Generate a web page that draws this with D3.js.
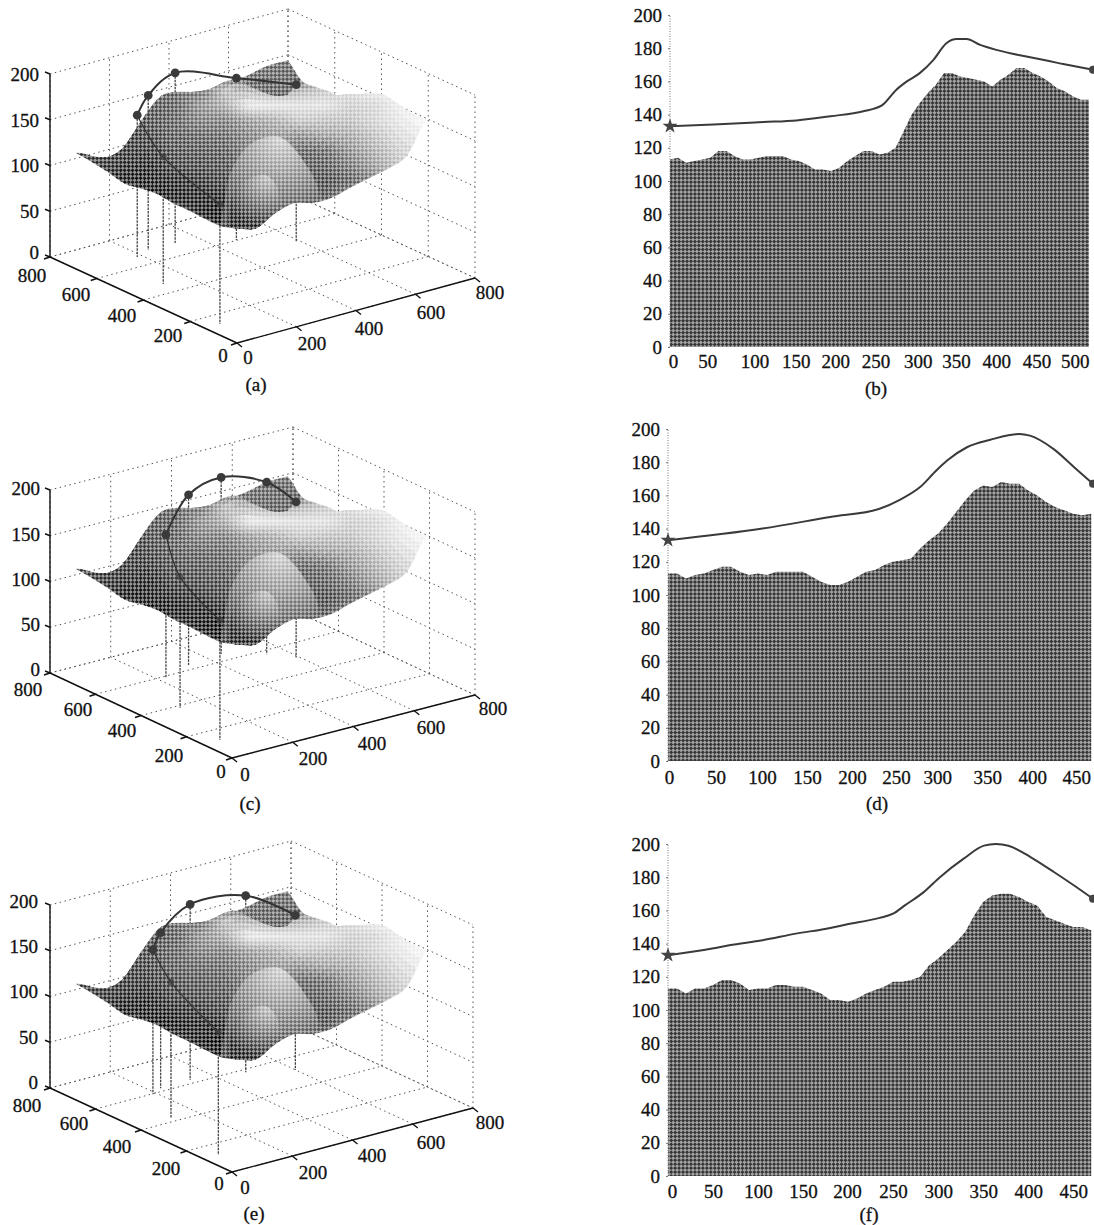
<!DOCTYPE html>
<html>
<head>
<meta charset="utf-8">
<script src="https://cdn.jsdelivr.net/npm/d3@7"></script>
<style>
body { margin: 0; background: #fff; }
text { font-family: "Liberation Serif", serif; font-size: 19px; fill: #111; stroke: #111; stroke-width: 0.3px; }
</style>
</head>
<body>
<svg id="chart" width="1094" height="1225"></svg>
<script>
const groundTicks = [0, 200, 400, 600, 800];
const heightTicks3d = [0, 50, 100, 150, 200];
const yTicks = [0, 20, 40, 60, 80, 100, 120, 140, 160, 180, 200];

// terrain heights, rows run front to back, columns left to right
const terrain = [
  [125, 118, 127, 131, 124, 122, 126, 129, 132, 139, 170],
  [120, 114, 116, 122, 122, 124, 128, 132, 136, 146, 170],
  [120, 113, 110, 112, 122, 128, 134, 140, 148, 160, 173],
  [121, 113, 107, 110, 120, 136, 150, 160, 165, 170, 176],
  [121, 115, 108, 112, 130, 150, 165, 170, 172, 175, 171],
  [123, 118, 116, 122, 150, 168, 172, 172, 170, 168, 161],
  [121, 120, 128, 150, 166, 168, 168, 165, 160, 155, 152],
  [118, 118, 138, 162, 172, 168, 164, 158, 154, 152, 152],
  [122, 142, 172, 181, 180, 179, 184, 168, 153, 149, 150],
  [125, 125, 142, 168, 174, 168, 159, 153, 141, 134, 150],
  [127, 116, 112, 141, 164, 162, 155, 158, 160, 165, 165]
];
const terrainCorners = [[0, 0], [709, 93], [709, 686], [0, 686]];

// the two rounded hills in front of the plateau, outline as x, y, z
const hillOuter = [[202, 300, 117], [222, 300, 137], [269, 300, 155], [323, 300, 160], [380, 300, 156], [424, 300, 141], [464, 300, 120], [497, 300, 99], [521, 300, 71], [540, 300, 30], [300, 300, 20], [190, 300, 40]];
const hillInner = [[222, 300, 109], [255, 300, 118], [323, 300, 120], [356, 300, 111], [380, 300, 91], [385, 300, 60], [370, 300, 20], [240, 300, 20], [208, 300, 60]];

// grey levels of the shaded surface as read on the page
const toneX = [75, 100, 125, 150, 175, 200, 225, 250, 275, 300, 325, 350, 375, 400, 425];
const toneY = [60, 75, 90, 105, 120, 135, 150, 165, 180, 195, 210, 225, 240];
const tones = [
  [120, 120, 120, 120, 120, 120, 120, 120, 120, 120, 120, 120, 120, 120, 120],
  [120, 120, 120, 120, 120, 120, 120, 120, 120, 120, 120, 120, 120, 120, 120],
  [130, 130, 130, 125, 130, 135, 200, 190, 180, 190, 205, 225, 240, 245, 250],
  [120, 120, 120, 120, 125, 165, 185, 240, 235, 230, 232, 215, 220, 240, 250],
  [110, 110, 110, 115, 130, 150, 150, 175, 190, 210, 205, 205, 220, 235, 250],
  [100, 100, 100, 110, 125, 130, 135, 155, 170, 165, 180, 185, 205, 225, 240],
  [100, 100, 100, 100, 115, 120, 125, 150, 175, 130, 135, 165, 190, 215, 230],
  [100, 95, 90, 85, 105, 110, 115, 135, 165, 120, 125, 145, 175, 205, 230],
  [95, 95, 75, 80, 85, 95, 105, 125, 150, 115, 110, 125, 150, 200, 230],
  [110, 110, 110, 70, 75, 80, 85, 115, 150, 115, 115, 150, 170, 200, 230],
  [110, 110, 110, 95, 95, 75, 65, 105, 130, 130, 140, 160, 170, 200, 230],
  [110, 110, 110, 95, 95, 90, 70, 100, 130, 140, 160, 160, 170, 200, 230],
  [110, 110, 110, 95, 95, 90, 70, 100, 130, 140, 160, 160, 170, 200, 230]
];
const backTone = 125;

// flight paths, start to end
const pathA = [[51, 138, 131], [115, 462, 139], [184, 661, 155], [239, 684, 169], [328, 682, 186], [471, 602, 177], [588, 495, 172]];
const pathC = [[51, 138, 131], [115, 390, 143], [220, 584, 157], [329, 626, 186], [448, 638, 193], [543, 564, 188], [590, 498, 170]];
const pathE = [[48, 141, 134], [116, 430, 149], [188, 599, 158], [232, 622, 170], [332, 623, 192], [485, 580, 193], [600, 514, 169]];

// profiles
const groundB = [113, 114, 111, 112, 113, 114, 118, 118, 115, 113, 113, 114, 115, 115, 115, 113, 112, 110, 107, 107, 106, 108, 112, 115, 118, 118, 116, 117, 120, 130, 140, 147, 153, 158, 165, 165, 163, 162, 161, 160, 157, 161, 164, 168, 168, 165, 163, 160, 156, 154, 151, 149, 149];
const groundD = [113, 113, 110, 112, 113, 115, 117, 117, 114, 112, 113, 112, 114, 114, 114, 114, 111, 108, 106, 106, 108, 111, 114, 115, 118, 120, 121, 122, 128, 133, 137, 143, 150, 157, 163, 166, 165, 168, 167, 167, 163, 160, 156, 153, 151, 149, 148, 149];
const groundF = [113, 113, 110, 113, 113, 115, 118, 118, 116, 112, 113, 113, 115, 115, 114, 114, 112, 110, 106, 106, 105, 107, 110, 112, 114, 117, 117, 118, 120, 127, 131, 136, 141, 147, 157, 165, 169, 170, 170, 168, 165, 163, 156, 154, 152, 150, 150, 148];
const lineBx = [0, 54, 116, 157, 199, 240, 263, 281, 294, 310, 327, 343, 356, 368, 385, 405, 447, 488, 525];
const lineBy = [133, 134, 135.5, 136.5, 139, 142, 145.5, 155, 160, 165, 173, 183, 185.5, 185.5, 182, 179, 174.5, 170.5, 167];
const lineDx = [0, 105, 180, 235, 258, 280, 298, 310, 332, 358, 390, 402, 428, 451, 472];
const lineDy = [133, 140, 147, 152, 157.5, 165, 175, 181, 189, 193.5, 197, 196, 188, 177, 167];
const lineFx = [0, 49, 68, 105, 142, 176, 198, 235, 250, 263, 284, 302, 328, 351, 364, 378, 403, 429, 451, 472];
const lineFy = [133, 137, 139, 142, 146, 149, 151.5, 155.5, 158, 163, 171, 180, 191, 199, 200, 199, 192, 183, 175, 167];

const svg = d3.select("#chart");
const defs = svg.append("defs");

// halftone screen: a checker of dark and half see through squares
const TILE = 5.6;
const screen = defs.append("pattern").attr("id", "screen").attr("width", TILE).attr("height", TILE)
  .attr("patternUnits", "userSpaceOnUse").attr("patternTransform", "rotate(45)");
screen.append("rect").attr("width", TILE).attr("height", TILE).attr("fill", "#fff");
screen.append("rect").attr("width", TILE / 2).attr("height", TILE / 2).attr("fill", "#757575");
screen.append("rect").attr("x", TILE / 2).attr("y", TILE / 2).attr("width", TILE / 2).attr("height", TILE / 2).attr("fill", "#757575");
defs.append("mask").attr("id", "halftone").attr("maskUnits", "userSpaceOnUse")
  .attr("x", 0).attr("y", 0).attr("width", 1094).attr("height", 1225)
  .append("rect").attr("width", 1094).attr("height", 1225).attr("fill", "url(#screen)");

const screened = g => {
  const v = Math.max(0, 255 - (255 - g) / 0.73);
  return d3.rgb(v, v, v);
};

// the surface is drawn with one fixed view, the panels only shift it down
const baseX = d3.scaleLinear().domain([0, 800]).range([0, 238]);
const baseXup = d3.scaleLinear().domain([0, 800]).range([0, -65]);
const baseY = d3.scaleLinear().domain([0, 800]).range([0, -187]);
const baseYup = d3.scaleLinear().domain([0, 800]).range([0, -86]);
const baseZ = d3.scaleLinear().domain([0, 200]).range([0, -183]);
function baseProject(x, y, z) {
  return [237 + baseX(x) + baseY(y), 343 + baseXup(x) + baseYup(y) + baseZ(z)];
}

function catmull(a, b, c, d, t) {
  return 0.5 * (2 * b + (c - a) * t + (2 * a - 5 * b + 4 * c - d) * t * t + (3 * b - a - 3 * c + d) * t * t * t);
}
function terrainHeight(u, v) {
  const n = terrain.length - 1, m = terrain[0].length - 1;
  const r = Math.min(Math.floor(v), n - 1), c = Math.min(Math.floor(u), m - 1);
  const row = k => {
    const line = terrain[Math.max(0, Math.min(n, k))];
    const at = q => line[Math.max(0, Math.min(m, q))];
    return catmull(at(c - 1), at(c), at(c + 1), at(c + 2), u - c);
  };
  return catmull(row(r - 1), row(r), row(r + 1), row(r + 2), v - r);
}
function terrainPoint(u, v) {
  const a = u / (terrain[0].length - 1), b = v / (terrain.length - 1);
  const [p0, p1, p2, p3] = terrainCorners;
  const x = (1 - a) * (1 - b) * p0[0] + a * (1 - b) * p1[0] + a * b * p2[0] + (1 - a) * b * p3[0];
  const y = (1 - a) * (1 - b) * p0[1] + a * (1 - b) * p1[1] + a * b * p2[1] + (1 - a) * b * p3[1];
  return baseProject(x, y, terrainHeight(u, v));
}
const toneRows = tones.map(row => d3.scaleLinear().domain(toneX).range(row).clamp(true));
function toneAt(px, py) {
  const values = toneRows.map(f => f(px));
  return d3.scaleLinear().domain(toneY).range(values).clamp(true)(py);
}

// build the sub divided quads once, far rows first
const STEP = 4;
const quads = [];
for (let r = (terrain.length - 1) * STEP - 1; r >= 0; r--) {
  for (let c = 0; c < (terrain[0].length - 1) * STEP; c++) {
    const u = c / STEP, v = r / STEP, d = 1 / STEP;
    const pts = [terrainPoint(u, v), terrainPoint(u + d, v), terrainPoint(u + d, v + d), terrainPoint(u, v + d)];
    const cx = d3.mean(pts, p => p[0]), cy = d3.mean(pts, p => p[1]);
    const back = v >= 9 && u >= 5;
    quads.push({ pts, grey: back ? backTone + 12 * (v - 9) : toneAt(cx, cy) });
  }
}
const quadPath = quads.map(q => "M" + q.pts.join("L") + "Z").join("");
defs.append("clipPath").attr("id", "surfaceClip").append("path").attr("d", quadPath);

function hillGradient(id, center, radius, stops) {
  const grad = defs.append("radialGradient").attr("id", id).attr("gradientUnits", "userSpaceOnUse")
    .attr("cx", center[0]).attr("cy", center[1]).attr("r", radius);
  stops.forEach(s => grad.append("stop").attr("offset", s[0]).attr("stop-color", screened(s[1])));
}
hillGradient("hillOuterFill", [280, 138], 85, [[0, 218], [0.5, 165], [1, 112]]);
hillGradient("hillInnerFill", [268, 176], 52, [[0, 205], [0.5, 150], [1, 90]]);
const hillLine = d3.line().curve(d3.curveCatmullRomClosed.alpha(0.5));

function label(g, txt, x, y, anchor) {
  g.append("text").attr("x", x).attr("y", y).attr("text-anchor", anchor || "middle")
    .attr("dy", "0.35em").text(txt);
}

function draw3d(p) {
  const g = svg.append("g");
  const sx = d3.scaleLinear().domain([0, 800]).range([p.front[0], p.right[0]]);
  const sxUp = d3.scaleLinear().domain([0, 800]).range([p.front[1], p.right[1]]);
  const syOff = d3.scaleLinear().domain([0, 800]).range([0, p.foot[0] - p.front[0]]);
  const syUp = d3.scaleLinear().domain([0, 800]).range([0, p.foot[1] - p.front[1]]);
  const sz = d3.scaleLinear().domain([0, 200]).range([0, -(p.foot[1] - p.top)]);
  const project = (x, y, z) => [sx(x) + syOff(y), sxUp(x) + syUp(y) + sz(z)];
  const dotted = (a, b) => g.append("line").attr("x1", a[0]).attr("y1", a[1]).attr("x2", b[0]).attr("y2", b[1])
    .attr("stroke", "#555").attr("stroke-width", 1).attr("stroke-dasharray", "1.5 3.5");

  groundTicks.forEach(t => {
    dotted(project(t, 0, 0), project(t, 800, 0));
    dotted(project(0, t, 0), project(800, t, 0));
    dotted(project(t, 800, 0), project(t, 800, 200));
    dotted(project(800, t, 0), project(800, t, 200));
  });
  heightTicks3d.forEach(t => {
    dotted(project(0, 800, t), project(800, 800, t));
    dotted(project(800, 800, t), project(800, 0, t));
  });

  const dy = p.foot[1] - 257;
  const shifted = (x, y, z) => { const q = baseProject(x, y, z); return [q[0], q[1] + dy]; };

  // droppers sit behind the surface
  p.path.forEach(d => {
    const a = shifted(d[0], d[1], d[2]), b = shifted(d[0], d[1], 0);
    g.append("line").attr("x1", a[0]).attr("y1", a[1]).attr("x2", b[0]).attr("y2", b[1])
      .attr("stroke", "#444").attr("stroke-width", 1.3).attr("stroke-dasharray", "2.5 1");
  });

  const s = g.append("g").attr("transform", "translate(0," + dy + ")");
  s.append("path").attr("d", quadPath).attr("fill", "#fff");
  const shade = g.append("g").attr("mask", "url(#halftone)").append("g").attr("transform", "translate(0," + dy + ")");
  shade.selectAll("path").data(quads).enter().append("path")
    .attr("d", q => "M" + q.pts.join("L") + "Z")
    .attr("fill", q => screened(q.grey))
    .attr("stroke", q => screened(q.grey))
    .attr("stroke-width", 0.5);
  const hills = shade.append("g").attr("clip-path", "url(#surfaceClip)");
  hills.append("path").attr("d", hillLine(hillOuter.map(d => baseProject(d[0], d[1], d[2])))).attr("fill", "url(#hillOuterFill)");
  hills.append("path").attr("d", hillLine(hillInner.map(d => baseProject(d[0], d[1], d[2])))).attr("fill", "url(#hillInnerFill)");

  const pts = p.path.map(d => shifted(d[0], d[1], d[2]));
  const line = d3.line().curve(d3.curveCatmullRom.alpha(0.5));
  g.append("path").attr("d", line(pts.slice(0, 3))).attr("fill", "none").attr("stroke", "#333").attr("stroke-width", 1.2);
  g.append("path").attr("d", line(pts.slice(2))).attr("fill", "none").attr("stroke", "#333").attr("stroke-width", 2);
  pts.forEach((q, i) => {
    g.append("path").attr("d", d3.symbol().type(d3.symbolCircle).size(i < 2 ? 36 : 60)())
      .attr("transform", "translate(" + q + ")").attr("fill", "#3a3a3a").attr("opacity", i < 2 ? 0.65 : 1);
  });

  // solid axes
  const solid = (a, b) => g.append("line").attr("x1", a[0]).attr("y1", a[1]).attr("x2", b[0]).attr("y2", b[1])
    .attr("stroke", "#111").attr("stroke-width", 1.4);
  solid(project(0, 0, 0), project(800, 0, 0));
  solid(project(0, 0, 0), project(0, 800, 0));
  solid(project(0, 800, 0), project(0, 800, 200));
  groundTicks.forEach(t => {
    const a = project(t, 0, 0), b = project(0, t, 0);
    solid(a, [a[0] + 5, a[1] + 4]);
    solid(b, [b[0] - 6, b[1] + 2]);
  });
  heightTicks3d.forEach(t => {
    const a = project(0, 800, t);
    solid(a, [a[0] - 5, a[1] - 2]);
  });

  p.zLabels.forEach((y, i) => label(g, heightTicks3d[i], p.zRight, y, "end"));
  p.yLabels.forEach((q, i) => label(g, groundTicks[i], q[0], q[1]));
  p.xLabels.forEach((q, i) => label(g, groundTicks[i], q[0], q[1]));
  label(g, p.name, p.nameAt[0], p.nameAt[1]);
}

function drawProfile(p) {
  const g = svg.append("g");
  const x = d3.scaleLinear().domain([0, p.maxX]).range([p.left, 1093]);
  const y = d3.scaleLinear().domain([0, 200]).range([p.bottom, p.bottom - 332]);
  const area = d3.area().x((d, i) => x(Math.min(i * 10, p.maxX))).y0(y(0)).y1(d => y(d)).curve(d3.curveLinear);

  g.append("g").attr("mask", "url(#halftone)").append("path").attr("d", area(p.ground)).attr("fill", screened(108));

  g.append("line").attr("x1", p.left).attr("x2", p.left).attr("y1", y(0)).attr("y2", y(200))
    .attr("stroke", "#777").attr("stroke-dasharray", "1 1.5");

  const left = g.append("g").attr("transform", "translate(" + p.left + ",0)")
    .call(d3.axisLeft(y).tickValues(yTicks).tickSize(2).tickPadding(6));
  left.select(".domain").remove();
  left.selectAll("line").attr("stroke", "#777");

  const bottom = g.append("g").attr("transform", "translate(0," + y(0) + ")")
    .call(d3.axisBottom(x).tickValues(p.xTicks).tickSize(0).tickPadding(p.pad));
  bottom.select(".domain").remove();
  bottom.selectAll("text").attr("dx", (d, i) => p.nudge[i]);
  svg.selectAll(".tick text").style("font-family", '"Liberation Serif", serif').style("font-size", "19px");

  const line = d3.line().x((d, i) => x(p.lineX[i])).y(d => y(d)).curve(d3.curveMonotoneX);
  g.append("path").attr("d", line(p.lineY)).attr("fill", "none").attr("stroke", "#3a3a3a").attr("stroke-width", 2);
  g.append("path").attr("d", d3.symbol().type(d3.symbolStar).size(70)())
    .attr("transform", "translate(" + x(0) + "," + y(p.lineY[0]) + ")").attr("fill", "#444");
  g.append("path").attr("d", d3.symbol().type(d3.symbolCircle).size(50)())
    .attr("transform", "translate(" + x(p.maxX) + "," + y(p.lineY[p.lineY.length - 1]) + ")").attr("fill", "#444");
  label(g, p.name, p.nameAt[0], p.nameAt[1]);
}

draw3d({
  name: "(a)", nameAt: [256, 384], path: pathA, foot: [50, 257], top: 74, front: [237, 343], right: [475, 278],
  zRight: 39, zLabels: [252, 211, 165, 120, 74],
  yLabels: [[223, 355], [168, 335], [122, 315], [76, 294], [32, 275]],
  xLabels: [[248, 357], [312, 343], [369, 328], [431, 312], [490, 292]]
});
draw3d({
  name: "(c)", nameAt: [250, 803], path: pathC, foot: [50, 673], top: 490, front: [232, 758], right: [475, 695],
  zRight: 40, zLabels: [669, 624, 579, 534, 488],
  yLabels: [[221, 771], [169, 755], [122, 730], [78, 709], [28, 689]],
  xLabels: [[245, 774], [313, 758], [372, 743], [431, 727], [493, 708]]
});
draw3d({
  name: "(e)", nameAt: [254, 1213], path: pathE, foot: [50, 1088], top: 905, front: [232, 1172], right: [473, 1108],
  zRight: 38, zLabels: [1082, 1037, 991, 946, 901],
  yLabels: [[219, 1183], [166, 1168], [117, 1146], [74, 1123], [27, 1105]],
  xLabels: [[245, 1187], [313, 1172], [372, 1155], [431, 1142], [490, 1122]]
});

drawProfile({
  name: "(b)", nameAt: [876, 388], left: 670, bottom: 347, maxX: 525, pad: 8, ground: groundB, lineX: lineBx, lineY: lineBy,
  xTicks: [0, 50, 100, 150, 200, 250, 300, 350, 400, 450, 500],
  nudge: [3, -3, 4, 5, 4, 4, 6, 4, 4, 4, 2]
});
drawProfile({
  name: "(d)", nameAt: [877, 803], left: 668, bottom: 761, maxX: 472, pad: 10, ground: groundD, lineX: lineDx, lineY: lineDy,
  xTicks: [0, 50, 100, 150, 200, 250, 300, 350, 400, 450],
  nudge: [1, 3, 4, 4, 4, 3, -1, 4, 4, 3]
});
drawProfile({
  name: "(f)", nameAt: [869, 1214], left: 668, bottom: 1176, maxX: 472, pad: 9, ground: groundF, lineX: lineFx, lineY: lineFy,
  xTicks: [0, 50, 100, 150, 200, 250, 300, 350, 400, 450],
  nudge: [4, 0, 0, 0, -1, 0, 0, 0, 0, 0]
});
</script>
</body>
</html>
